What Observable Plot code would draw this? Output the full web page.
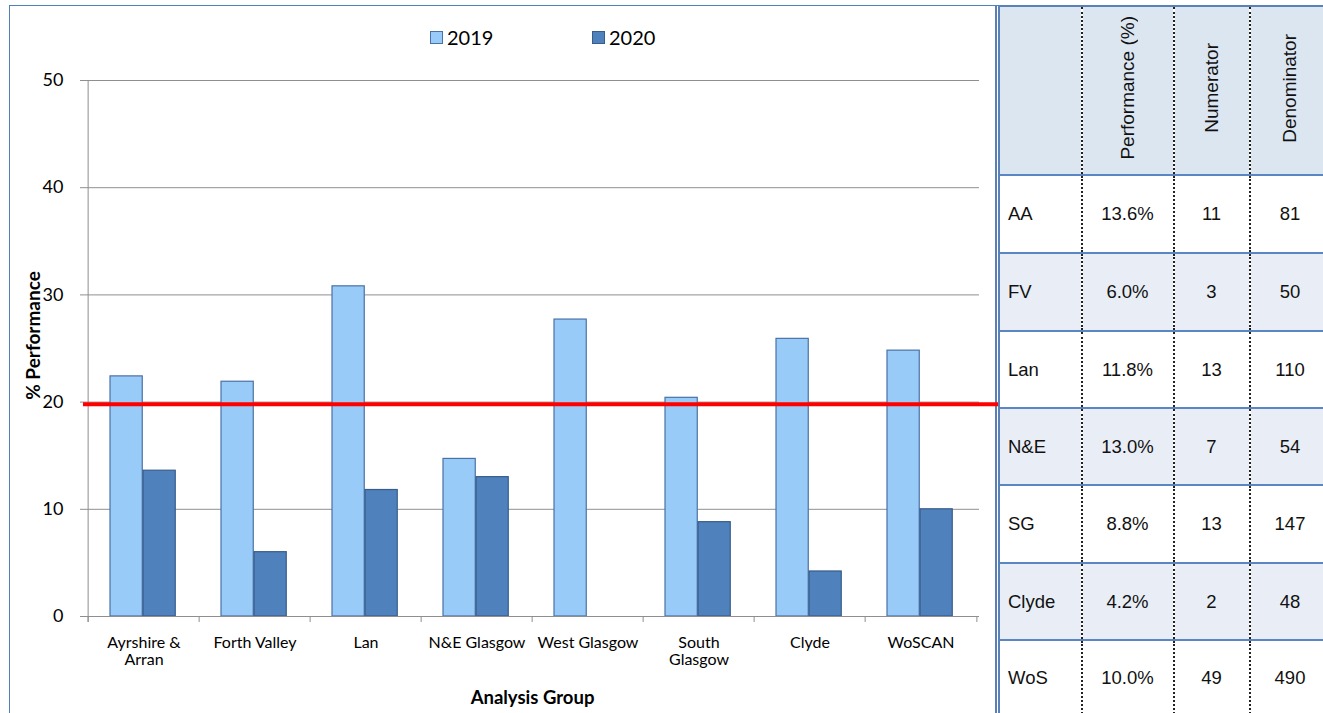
<!DOCTYPE html>
<html>
<head>
<meta charset="utf-8">
<script src="https://cdn.jsdelivr.net/npm/d3@7"></script>
<script src="https://cdn.jsdelivr.net/npm/@observablehq/plot@0.6"></script>
<style>
  html, body { margin: 0; padding: 0; background: #fff; width: 1323px; height: 713px; overflow: hidden; position: relative; }
  #frame { position: absolute; left: 9px; top: 5px; width: 990px; height: 712px; border-left: 1px solid #4f81bd; border-top: 1px solid #4f81bd; }
  #chart { position: absolute; left: 10px; top: 6px; z-index: 3; }
  #legend { position: absolute; left: 430px; top: 24px; z-index: 4; font-family: Lato, sans-serif; font-size: 20px; color: #000; }
  .lg { position: absolute; top: 0; white-space: nowrap; line-height: 26px; }
  .sw { display: inline-block; width: 11px; height: 11px; margin-right: 4px; vertical-align: 1px; }
  #tbl { position: absolute; left: 995px; top: 5px; z-index: 2; border-collapse: collapse; table-layout: fixed; font-family: "Liberation Sans", Arial, sans-serif; font-size: 18.5px; color: #111; border-left: 5px double #5a80b8; border-top: 2px solid #5a80b8; }
  #tbl td { padding: 0; border-top: 2px solid #5a86c3; border-left: 2px dotted #222; text-align: center; overflow: hidden; box-sizing: border-box; }
  #tbl td:first-child { border-left: none; text-align: left; padding-left: 8px; }
  #tbl tr.hdr td { background: #dce6f1; border-top: none; font-size: 19px; }
  #tbl tr.alt td { background: #e9eef6; }
  .vt { writing-mode: vertical-rl; transform: rotate(180deg); display: inline-block; white-space: nowrap; }
</style>
</head>
<body>
<div id="frame"></div>
<div id="chart"></div>
<div id="legend"></div>
<table id="tbl"><colgroup id="cols"></colgroup></table>
<script>
// ---- chart data ----
const groups = ["Ayrshire & Arran", "Forth Valley", "Lan", "N&E Glasgow", "West Glasgow", "South Glasgow", "Clyde", "WoSCAN"];
const groupLabels = ["Ayrshire &\nArran", "Forth Valley", "Lan", "N&E Glasgow", "West Glasgow", "South\nGlasgow", "Clyde", "WoSCAN"];
const values2019 = [22.4, 21.9, 30.8, 14.7, 27.7, 20.4, 25.9, 24.8];
const values2020 = [13.6, 6.0, 11.8, 13.0, null, 8.8, 4.2, 10.0];
const seriesNames = ["2019", "2020"];
const seriesColors = ["#99cbf8", "#4f81bd"];
const seriesStrokes = ["#4a72a6", "#385d8a"];
const target = [19.8];
const yTicks = [0, 10, 20, 30, 40, 50];

// ---- table data ----
const tableHeaders = ["", "Performance (%)", "Numerator", "Denominator"];
const tableLabels = ["AA", "FV", "Lan", "N&E", "SG", "Clyde", "WoS"];
const tablePerf = ["13.6%", "6.0%", "11.8%", "13.0%", "8.8%", "4.2%", "10.0%"];
const tableNum = [11, 3, 13, 7, 13, 2, 49];
const tableDen = [81, 50, 110, 54, 147, 48, 490];

// ---- plot ----
const W = 988, H = 707, mL = 75, mR = 19, mT = 74, mB = 97;
const step = (W - mL - mR) / groups.length;
const barW = 33, outer = 22;

const rows2019 = groups.map((g, i) => ({group: g, value: values2019[i]})).filter(d => d.value != null);
const rows2020 = groups.map((g, i) => ({group: g, value: values2020[i]})).filter(d => d.value != null);

const font = "Lato, sans-serif";
const chart = Plot.plot({
  width: W, height: H,
  marginLeft: mL, marginRight: mR, marginTop: mT, marginBottom: mB,
  style: {fontFamily: font, background: "transparent", color: "#000", overflow: "visible"},
  x: {domain: groups, padding: 0, axis: null},
  y: {domain: [0, 50], axis: null},
  marks: [
    Plot.gridY(yTicks.filter(t => t > 0), {stroke: "#8f8f8f", strokeOpacity: 1, strokeWidth: 1}),
    Plot.barY(rows2019, {x: "group", y: "value", fill: seriesColors[0], stroke: seriesStrokes[0], strokeWidth: 1.2,
      insetLeft: outer, insetRight: step - outer - barW}),
    Plot.barY(rows2020, {x: "group", y: "value", fill: seriesColors[1], stroke: seriesStrokes[1], strokeWidth: 1.2,
      insetLeft: outer + barW, insetRight: step - outer - 2 * barW}),
    // axis lines
    Plot.ruleY([0], {stroke: "#8f8f8f", strokeWidth: 1}),
    Plot.ruleX([groups[0]], {x: d => d, dx: -step / 2, stroke: "#8f8f8f", insetBottom: -6}),
    Plot.ruleX(groups, {x: d => d, dx: -step / 2, stroke: "#8f8f8f", insetTop: H - mT - mB, insetBottom: -6}),
    Plot.ruleX([groups[groups.length - 1]], {x: d => d, dx: step / 2, stroke: "#8f8f8f", insetTop: H - mT - mB, insetBottom: -6}),
    Plot.axisY(yTicks, {label: null, tickSize: 5, tickPadding: 17, stroke: "#8f8f8f", fill: "#000", fontSize: 18}),
    Plot.axisX({label: null, tickSize: 0, tickPadding: 19, fontSize: 16, lineHeight: 1.06, fill: "#000",
      tickFormat: d => groupLabels[groups.indexOf(d)]}),
    // target line
    Plot.ruleY(target, {stroke: "#ff0000", strokeWidth: 4, insetLeft: -2, insetRight: -mR}),
    // axis titles
    Plot.text(["Analysis Group"], {frameAnchor: "bottom", dy: 87, fontSize: 18.5, fontWeight: "bold", fill: "#000"}),
    Plot.text(["% Performance"], {frameAnchor: "left", textAnchor: "middle", dx: -52, dy: -13, rotate: -90, fontSize: 19, fontWeight: "bold", fill: "#000"})
  ]
});
document.getElementById("chart").appendChild(chart);

// ---- legend ----
const legend = document.getElementById("legend");
const legendX = [0, 162];
seriesNames.forEach((s, i) => {
  const item = document.createElement("div");
  item.className = "lg";
  item.style.left = legendX[i] + "px";
  item.innerHTML = `<span class="sw" style="background:${seriesColors[i]};border:1px solid ${seriesStrokes[i]}"></span>${s}`;
  legend.appendChild(item);
});

// ---- table ----
const tbl = document.getElementById("tbl");
const colW = [84, 92, 76, 80];
const cols = document.getElementById("cols");
colW.forEach(w => {
  const c = document.createElement("col");
  c.style.width = w + "px";
  cols.appendChild(c);
});
tbl.style.width = colW.reduce((a, b) => a + b, 0) + "px";
const hdr = document.createElement("tr");
hdr.className = "hdr";
hdr.style.height = "169px";
tableHeaders.forEach((h, j) => {
  const td = document.createElement("td");
  if (h) td.innerHTML = `<span class="vt">${h}</span>`;
  hdr.appendChild(td);
});
tbl.appendChild(hdr);
const rowH = [78, 78, 77, 77, 78, 77, 74];
tableLabels.forEach((lab, i) => {
  const tr = document.createElement("tr");
  if (i % 2 === 1) tr.className = "alt";
  tr.style.height = rowH[i] + "px";
  [lab, tablePerf[i], tableNum[i], tableDen[i]].forEach((v, j) => {
    const td = document.createElement("td");
    td.textContent = v;
    tr.appendChild(td);
  });
  tbl.appendChild(tr);
});
</script>
</body>
</html>
